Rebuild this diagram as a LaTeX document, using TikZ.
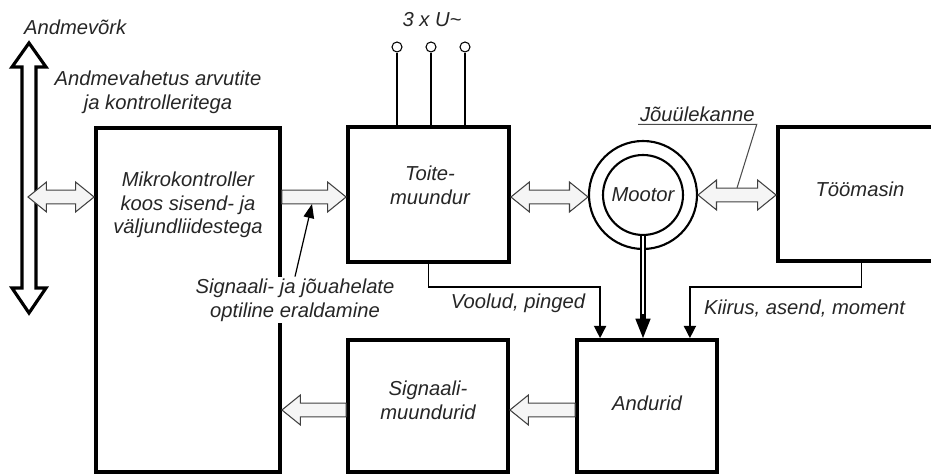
\documentclass[tikz,border=0pt]{standalone}
\usepackage{fontspec}
\setmainfont{Liberation Sans}
\usetikzlibrary{positioning,arrows.meta,calc}

% hollow block arrows (horizontal only): tail, tip, direction (1 right, -1 left)
\newcommand{\hollowarrow}[3]{%
  \draw[hollow] let \p1=(#1), \p2=(#2) in
    (\x1,{\y1+3.9pt}) -- ({\x2-(#3)*10.5pt},{\y1+3.9pt}) -- ({\x2-(#3)*10.5pt},{\y1+8.5pt})
    -- (\x2,\y1) -- ({\x2-(#3)*10.5pt},{\y1-8.5pt}) -- ({\x2-(#3)*10.5pt},{\y1-3.9pt})
    -- (\x1,{\y1-3.9pt}) -- cycle;}
\newcommand{\hollowdouble}[2]{%
  \draw[hollow] let \p1=(#1), \p2=(#2) in
    (\x1,\y1) -- ({\x1+10.5pt},{\y1+8.5pt}) -- ({\x1+10.5pt},{\y1+3.9pt})
    -- ({\x2-10.5pt},{\y1+3.9pt}) -- ({\x2-10.5pt},{\y1+8.5pt}) -- (\x2,\y1)
    -- ({\x2-10.5pt},{\y1-8.5pt}) -- ({\x2-10.5pt},{\y1-3.9pt})
    -- ({\x1+10.5pt},{\y1-3.9pt}) -- ({\x1+10.5pt},{\y1-8.5pt}) -- cycle;}

\begin{document}
\begin{tikzpicture}[
  x=0.02cm, y=0.02cm,
  font=\fontsize{11.5}{13.5}\selectfont\itshape,
  blk/.style={draw, line width=2.2pt, inner sep=0pt},
  txt/.style={align=center, text=black!85, inner sep=1pt},
  hollow/.style={draw=black!75, line width=0.6pt, fill=black!4, line join=miter},
  sig/.style={line width=0.8pt, -{Triangle[length=7pt,width=7pt]}},
  term/.style={circle, draw, fill=white, line width=0.6pt, minimum size=0.2cm, inner sep=0pt}
]
\useasboundingbox (0,0) rectangle (931,475);
\clip (0,0) rectangle (931,475);

% data bus
\draw[line width=1.8pt, fill=white, line join=miter]
  (29,432) -- (46,408) -- (36,408) -- (36,187) -- (46,187) -- (29,162)
  -- (12,187) -- (22,187) -- (22,408) -- (12,408) -- cycle;
\coordinate (bus) at (28,278);
\node[txt, anchor=west] (net) at (22,448) {Andmevõrk};
\node[txt] (data) at (158,383) {Andmevahetus arvutite\\ja kontrolleritega};

% blocks
\node[blk, minimum width=3.68cm, minimum height=6.88cm] (mk) at (188,175) {};
\node[txt] (mktext) at (188,270) {Mikrokontroller\\koos sisend- ja\\väljundliidestega};
\node[blk, minimum width=3.22cm, minimum height=2.7cm] (tm) at (428.5,280.5) {};
\node[txt] (tmtext) at (430,290) {Toite-\\muundur};
\node[blk, minimum width=3.34cm, minimum height=2.68cm] (tmas) at (861.5,281) {};
\node[txt] (tmastext) at (860,286) {Töömasin};
\node[blk, minimum width=3.2cm, minimum height=2.64cm] (sm) at (428,69) {};
\node[txt] (smtext) at (428,75) {Signaali-\\muundurid};
\node[blk, minimum width=2.8cm, minimum height=2.64cm] (and) at (647,69) {};
\node[txt] (andtext) at (647,72) {Andurid};

% motor
\node[circle, draw, line width=1.2pt, minimum size=2.16cm, inner sep=0pt] (motout) at (643,280) {};
\node[circle, draw, line width=1.2pt, minimum size=1.6cm, inner sep=0pt, txt] (mot) at (643,280) {Mootor};

% supply
\node[term] (t1) at (397,428) {};
\node[term] (t2) at (431,428) {};
\node[term] (t3) at (465,428) {};
\foreach \t in {t1,t2,t3}
  \draw[line width=1.7pt] (\t) -- (\t |- tm.north);
\node[txt] (supply) at (432,455) {3 x U\textasciitilde};

% block arrows
\hollowdouble{bus}{mk.west |- bus}
\hollowarrow{mk.east |- bus}{tm.west |- bus}{1}
\hollowdouble{tm.east |- bus}{motout.west}
\hollowdouble{motout.east}{tmas.west |- motout.east}
\coordinate (sr) at (0,65);
\hollowarrow{and.west |- sr}{sm.east |- sr}{-1}
\hollowarrow{sm.west |- sr}{mk.east |- sr}{-1}

% shaft to sensors
\draw[line width=1pt, double, double distance=1.6pt, shorten >=10pt] (mot.south) -- (mot.south |- and.north);
\draw[line width=0.8pt, -{Triangle[length=11pt,width=8.5pt]}] ($(mot.south |- and.north)+(0,24)$) -- (mot.south |- and.north);

% measured signals
\draw[sig] (tm.south) -- ++(0,-23) -| ($(and.north west)+(25,0)$);
\draw[sig] (tmas.south) -- ++(0,-24) -| ($(and.north east)+(-29,0)$);
\node[txt] (volt) at (518,172) {Voolud, pinged};
\node[txt, anchor=west] (speed) at (702,167) {Kiirus, asend, moment};

% transmission label
\node[txt, anchor=base west] (jk) at (638,353) {Jõuülekanne};
\coordinate (jkend) at (737,287);
\draw[line width=0.6pt, draw=black!70] (jk.south west) -- (jk.south east) -- (jkend);

% optical isolation label
\node[txt, fill=white] (opt) at (295,175) {Signaali- ja jõuahelate\\optiline eraldamine};
\coordinate (optend) at (312,271);
\draw[line width=0.7pt, -{Triangle[length=8pt,width=6pt]}] (opt.north) -- (optend);
\end{tikzpicture}
\end{document}
